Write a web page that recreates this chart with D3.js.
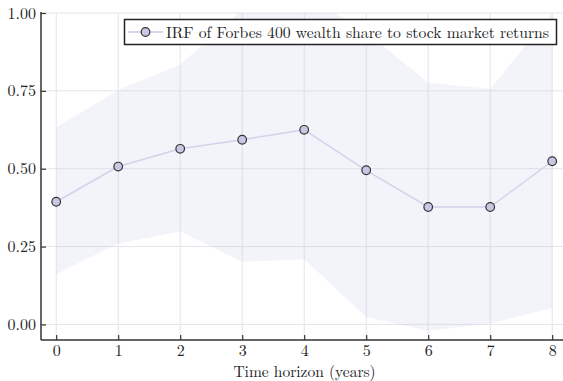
<!DOCTYPE html>
<html>
<head>
  <meta charset="UTF-8">
  <title>IRF chart</title>
  <style>
    body { margin: 0; background: #fff; }
    svg text { font-family: "Latin Modern Roman", "Liberation Serif", serif; fill: #222; }
    .grid line { stroke: #e4e4ea; stroke-width: 1; }
  </style>
</head>
<body>
<svg id="chart"></svg>
<script src="https://d3js.org/d3.v7.min.js"></script>
<script>
const width = 563, height = 381;

// data
const horizon = [0, 1, 2, 3, 4, 5, 6, 7, 8];
const irf   = [0.394, 0.507, 0.564, 0.593, 0.625, 0.495, 0.377, 0.377, 0.524];
const upper = [0.632, 0.753, 0.834, 1.01, 1.06, 0.937, 0.776, 0.756, 1.0];
const lower = [0.161, 0.260, 0.298, 0.201, 0.209, 0.024, -0.020, 0.003, 0.053];
const yTicks = [0, 0.25, 0.5, 0.75, 1.0];
const legendLabel = "IRF of Forbes 400 wealth share to stock market returns";

const plot = { left: 41, right: 563, top: 13, bottom: 340 };

const svg = d3.select("#chart").attr("width", width).attr("height", height);

const x = d3.scaleLinear().domain([-0.245, 8.245]).range([41, 567.4]);
const y = d3.scaleLinear().domain([-0.05, 1.0]).range([plot.bottom, plot.top]);

svg.append("clipPath").attr("id", "clip")
  .append("rect")
  .attr("x", plot.left).attr("y", plot.top)
  .attr("width", plot.right - plot.left).attr("height", plot.bottom - plot.top);

// grid
const grid = svg.append("g").attr("class", "grid");
grid.selectAll("line.v").data(horizon).join("line")
  .attr("x1", d => x(d)).attr("x2", d => x(d))
  .attr("y1", plot.top).attr("y2", plot.bottom);
grid.selectAll("line.h").data(yTicks).join("line")
  .attr("x1", plot.left).attr("x2", plot.right)
  .attr("y1", d => y(d)).attr("y2", d => y(d));

const g = svg.append("g").attr("clip-path", "url(#clip)");

// confidence band
const band = d3.area()
  .x((d, i) => x(horizon[i]))
  .y0((d, i) => y(lower[i]))
  .y1((d, i) => y(upper[i]));
g.append("path").datum(irf)
  .attr("d", band)
  .attr("fill", "#c8c8e6")
  .attr("fill-opacity", 0.22);

// line
const line = d3.line().x((d, i) => x(horizon[i])).y(d => y(d));
g.append("path").datum(irf)
  .attr("d", line)
  .attr("fill", "none")
  .attr("stroke", "#d2d2ea")
  .attr("stroke-width", 1.5);

g.selectAll("circle.pt").data(irf).join("circle")
  .attr("class", "pt")
  .attr("cx", (d, i) => x(horizon[i]))
  .attr("cy", d => y(d))
  .attr("r", 4.3)
  .attr("fill", "#c8c8e4")
  .attr("stroke", "#333")
  .attr("stroke-width", 1.2);

// axes
const xAxis = d3.axisBottom(x).tickValues(horizon).tickSizeInner(-5).tickSizeOuter(0).tickPadding(5);
const yAxis = d3.axisLeft(y).tickValues(yTicks).tickSizeInner(-5).tickSizeOuter(0).tickPadding(5)
  .tickFormat(d3.format(".2f"));

const gx = svg.append("g").attr("transform", `translate(0,${plot.bottom})`).call(xAxis);
const gy = svg.append("g").attr("transform", `translate(${plot.left},0)`).call(yAxis);

[gx, gy].forEach(a => {
  a.select(".domain").attr("stroke", "#333").attr("stroke-width", 1.5);
  a.selectAll(".tick line").attr("stroke", "#333").attr("stroke-width", 1.2);
  a.selectAll(".tick text").attr("font-size", 16).attr("fill", "#222")
    .style("font-family", "'Latin Modern Roman', 'Liberation Serif', serif");
});
gx.select(".domain").attr("d", `M${plot.left},0H${plot.right}`);
gy.select(".domain").attr("d", `M0,${plot.bottom}V${plot.top - 1}`);

svg.append("text")
  .attr("x", 304.5)
  .attr("y", 377)
  .attr("text-anchor", "middle")
  .attr("font-size", 15.5)
  .text("Time horizon (years)");

// legend
const lg = svg.append("g");
lg.append("rect")
  .attr("x", 124.5).attr("y", 19.5)
  .attr("width", 432).attr("height", 25)
  .attr("fill", "#fff").attr("stroke", "#222").attr("stroke-width", 1.5);
lg.append("line")
  .attr("x1", 128).attr("x2", 163).attr("y1", 32).attr("y2", 32)
  .attr("stroke", "#c8c8e6").attr("stroke-width", 1.5);
lg.append("circle")
  .attr("cx", 145.5).attr("cy", 32).attr("r", 4.3)
  .attr("fill", "#c8c8e4").attr("stroke", "#333").attr("stroke-width", 1.2);
lg.append("text")
  .attr("x", 166).attr("y", 37.5)
  .attr("font-size", 16)
  .attr("textLength", 383)
  .attr("lengthAdjust", "spacingAndGlyphs")
  .text(legendLabel);
</script>
</body>
</html>
